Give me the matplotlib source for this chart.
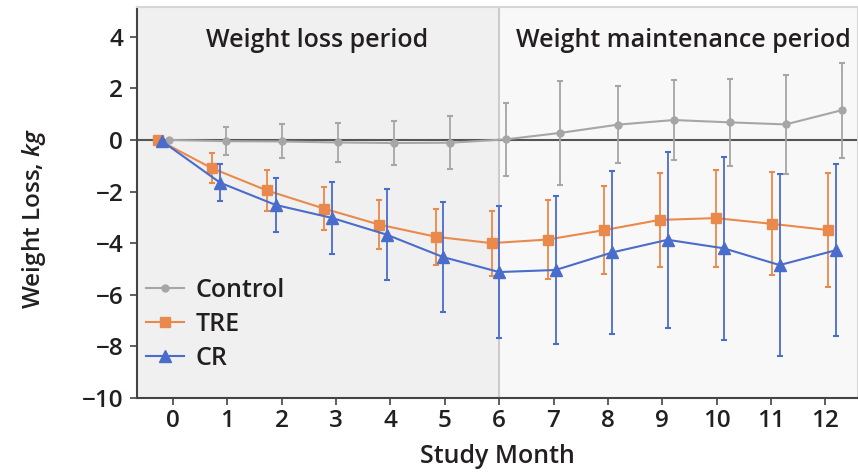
import matplotlib
matplotlib.use('Agg')
import matplotlib.pyplot as plt

# study month (actual measurement times, slightly offset per group)
months = list(range(13))
control_x = [-0.07, 0.97, 2.0, 3.03, 4.06, 5.09, 6.12, 7.12, 8.18, 9.21, 10.24, 11.27, 12.3]
tre_x = [-0.27, 0.71, 1.73, 2.78, 3.79, 4.83, 5.86, 6.89, 7.92, 8.95, 9.98, 11.01, 12.04]
cr_x = [-0.2, 0.87, 1.89, 2.92, 3.93, 4.97, 6.0, 7.04, 8.08, 9.1, 10.13, 11.16, 12.2]

control = [0, -0.05, -0.06, -0.1, -0.12, -0.11, 0.02, 0.27, 0.59, 0.77, 0.68, 0.6, 1.15]
control_err = [0, 0.55, 0.66, 0.75, 0.86, 1.03, 1.42, 2.0, 1.5, 1.55, 1.69, 1.91, 1.84]
tre = [0, -1.09, -1.96, -2.66, -3.28, -3.75, -4.0, -3.86, -3.5, -3.1, -3.03, -3.25, -3.49]
tre_err = [0, 0.58, 0.78, 0.84, 0.94, 1.08, 1.26, 1.54, 1.7, 1.81, 1.88, 2.0, 2.19]
cr = [-0.05, -1.66, -2.52, -3.02, -3.67, -4.54, -5.12, -5.04, -4.36, -3.87, -4.2, -4.85, -4.27]
cr_err = [0, 0.71, 1.03, 1.39, 1.77, 2.14, 2.55, 2.85, 3.16, 3.41, 3.55, 3.53, 3.34]

yticks = [4, 2, 0, -2, -4, -6, -8, -10]

plt.rcParams['font.family'] = ['Open Sans', 'DejaVu Sans']
plt.rcParams['font.weight'] = 'semibold'
plt.rcParams['axes.labelweight'] = 'semibold'
plt.rcParams['mathtext.fontset'] = 'custom'
plt.rcParams['mathtext.it'] = 'Open Sans:italic:semibold'
plt.rcParams['mathtext.rm'] = 'Open Sans:semibold'

TEXT = '#231f20'
GREY = '#a6a6a6'
ORANGE = '#e98a4c'
BLUE = '#4a6ccb'

fig = plt.figure(figsize=(8.58, 4.75), dpi=100)
ax = fig.add_axes([0.1597, 0.1621, 0.8403, 0.8232])
xmin, xmax = -0.66, 12.6
ax.set_xlim(xmin, xmax)
ax.set_ylim(-10, 5.15)

ax.axvspan(xmin, 6, color='#f0f0f0', zorder=0)
ax.axvspan(6, xmax, color='#f8f8f8', zorder=0)
ax.axvline(6, color='#cccccc', lw=1.5, zorder=1)
ax.axhline(0, color='#555555', lw=1.5, zorder=2)

ax.text(2.65, 3.61, 'Weight loss period', ha='center', va='baseline',
        fontsize=18, color=TEXT)
ax.text(9.38, 3.61, 'Weight maintenance period', ha='center', va='baseline',
        fontsize=18, color=TEXT)

series = [
    (control_x, control, control_err, GREY, 'o', 5, 'Control'),
    (tre_x, tre, tre_err, ORANGE, 's', 7.5, 'TRE'),
    (cr_x, cr, cr_err, BLUE, '^', 8.5, 'CR'),
]
handles = []
for i, (xs, ys, err, col, mk, ms, name) in enumerate(series):
    ax.errorbar(xs, ys, yerr=err, fmt='none', ecolor=col, elinewidth=1.3,
                capsize=2, capthick=1.5, zorder=3 + i)
    h, = ax.plot(xs, ys, color=col, lw=1.5, marker=mk, ms=ms, label=name,
                 zorder=3 + i)
    handles.append(h)

leg = ax.legend(handles=handles, loc='center left', bbox_to_anchor=(0.012, 0.189),
                frameon=False, fontsize=18, handlelength=1.55, handletextpad=0.45,
                labelspacing=0.36, borderaxespad=0, borderpad=0)
for t in leg.get_texts():
    t.set_color(TEXT)

ax.set_xticks(months)
ax.set_yticks(yticks)
ax.tick_params(axis='both', direction='out', length=5, width=1.2, color='#444444',
               labelsize=17.5, labelcolor=TEXT)
ax.tick_params(axis='x', pad=3)
ax.tick_params(axis='y', pad=5)

ax.set_xlabel('Study Month', fontsize=18, color=TEXT)
ax.xaxis.set_label_coords(0.5, -0.167)
ax.xaxis.label.set_va('baseline')
ax.set_ylabel('Weight Loss, $kg$', fontsize=17.5, color=TEXT)
ax.yaxis.set_label_coords(-0.1345, 0.46)
ax.yaxis.label.set_va('baseline')

for side in ['top', 'right']:
    ax.spines[side].set_color('#d6d6d6')
    ax.spines[side].set_linewidth(1.5)
for side in ['left', 'bottom']:
    ax.spines[side].set_color('#444444')
    ax.spines[side].set_linewidth(1.5)

fig.savefig('out.png', dpi=100)
